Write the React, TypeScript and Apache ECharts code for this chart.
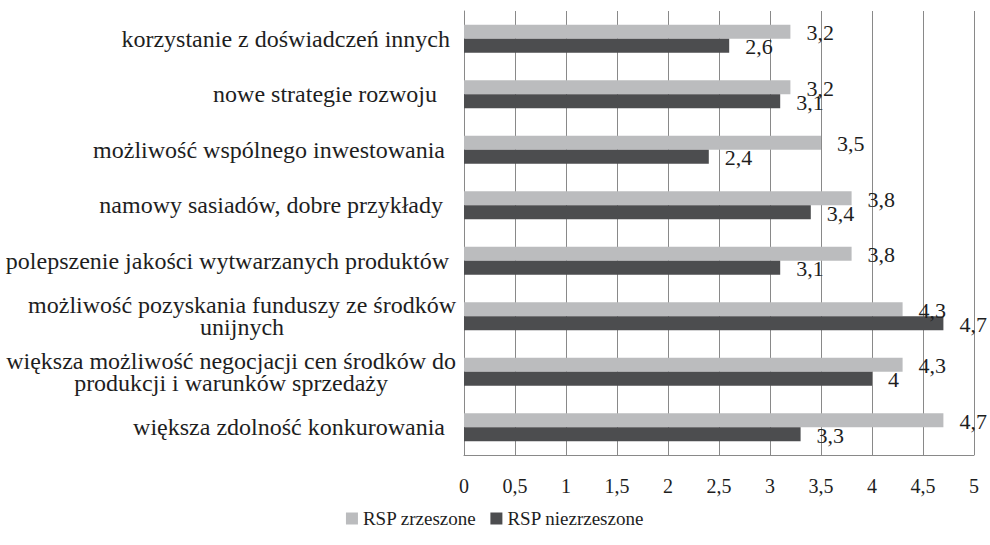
import React, { useEffect, useRef } from "react";
import * as echarts from "echarts";

const categories = [
  "korzystanie z doświadczeń innych",
  "nowe strategie rozwoju",
  "możliwość wspólnego inwestowania",
  "namowy sasiadów, dobre przykłady",
  "polepszenie jakości wytwarzanych produktów",
  "możliwość pozyskania funduszy ze środków\nunijnych",
  "większa możliwość negocjacji cen środków do\nprodukcji i warunków sprzedaży",
  "większa zdolność konkurowania",
];
const labelRightPad = [6, 19, 11, 13, 7, 0, 0, 11];
const zrzeszone = [3.2, 3.2, 3.5, 3.8, 3.8, 4.3, 4.3, 4.7];
const niezrzeszone = [2.6, 3.1, 2.4, 3.4, 3.1, 4.7, 4.0, 3.3];
const seriesNames = ["RSP zrzeszone", "RSP niezrzeszone"];

const FONT = "Times New Roman, Liberation Serif, serif";
const TEXT = "#1e1e1e";
const GRID = "#898989";
const fmt = (v: number) => String(v).replace(".", ",");

export default function App() {
  const ref = useRef<HTMLDivElement>(null);
  useEffect(() => {
    if (!ref.current) return;
    const chart = echarts.init(ref.current, undefined, { renderer: "svg" });
    const dataLabel = {
      show: true,
      position: "right",
      distance: 16,
      offset: [0, 1],
      fontFamily: FONT,
      fontSize: 22,
      color: TEXT,
      formatter: (p: any) => fmt(p.value),
    };
    chart.setOption({
      animation: false,
      textStyle: { fontFamily: FONT },
      grid: { left: 464, right: 16, top: 11, bottom: 90, containLabel: false },
      legend: {
        bottom: 12,
        left: "center",
        icon: "rect",
        itemWidth: 12,
        itemHeight: 12,
        itemGap: 14,
        itemStyle: { borderWidth: 0 },
        textStyle: { fontFamily: FONT, fontSize: 19, color: TEXT },
        data: seriesNames,
      },
      xAxis: {
        type: "value",
        min: 0,
        max: 5,
        interval: 0.5,
        axisLine: { show: true, lineStyle: { color: GRID, width: 1 } },
        axisTick: { show: false },
        splitLine: { show: true, lineStyle: { color: GRID, width: 1 } },
        axisLabel: {
          margin: 21,
          fontFamily: FONT,
          fontSize: 20,
          color: TEXT,
          formatter: (v: number) => fmt(v),
        },
      },
      yAxis: {
        type: "category",
        inverse: true,
        data: categories.map((c, i) => ({
          value: c,
          textStyle: { padding: [0, labelRightPad[i], 0, 0] },
        })),
        axisLine: { show: true, lineStyle: { color: GRID, width: 1 } },
        axisTick: { show: false },
        axisLabel: {
          margin: 8,
          fontFamily: FONT,
          fontSize: 24,
          color: TEXT,
          lineHeight: 22,
          formatter: (v: string) =>
            v
              .split("\n")
              .map((l) => `{c|${l}}`)
              .join("\n"),
          rich: {
            c: {
              align: "center",
              fontFamily: FONT,
              fontSize: 24,
              color: TEXT,
              lineHeight: 22,
            },
          },
        },
      },
      series: [
        {
          name: seriesNames[0],
          type: "bar",
          data: zrzeszone,
          barWidth: 14,
          barGap: "0%",
          itemStyle: { color: "#bbbcbe" },
          label: dataLabel,
        },
        {
          name: seriesNames[1],
          type: "bar",
          data: niezrzeszone,
          barWidth: 14,
          barGap: "0%",
          itemStyle: { color: "#4c4d4f" },
          label: dataLabel,
        },
      ],
    });
    return () => chart.dispose();
  }, []);
  return (
    <div
      ref={ref}
      style={{ position: "absolute", left: 0, top: 0, width: 990, height: 545, background: "#fff" }}
    />
  );
}
